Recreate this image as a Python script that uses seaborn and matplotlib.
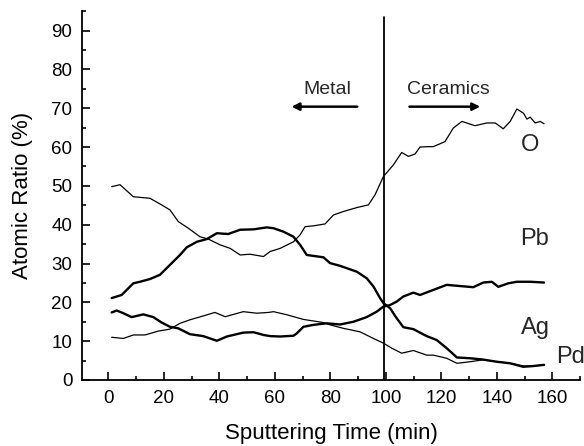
import numpy as np
import pandas as pd
import matplotlib
matplotlib.use("Agg")
import matplotlib.pyplot as plt
from matplotlib.ticker import MultipleLocator
import seaborn as sns

# Depth profile values
o_time = [1.2, 4.2, 9, 15, 19.2, 22.2, 25.2, 28.8, 33, 36, 40.3, 43.9, 47.5, 51, 55.9,
          58.3, 61.9, 66.7, 69.1, 70.9, 73.9, 78.1, 81.1, 84.7, 89.5, 93.7, 96.1, 99.1,
          102.7, 105.7, 108.1, 110.5, 112.3, 115.3, 117.1, 121.3, 124.3, 127.4, 132.1,
          136.4, 139.4, 142.3, 144.8, 147.2, 149.6, 150.8, 152, 153.8, 155.6, 157]
o_ratio = [49.8, 50.3, 47.2, 46.8, 45.1, 43.8, 40.8, 39.1, 36.9, 36.3, 34.8, 33.9, 32.2,
           32.4, 31.8, 33.1, 33.9, 35.6, 37.4, 39.5, 39.7, 40.2, 42.5, 43.4, 44.4, 45.1,
           47.7, 52.4, 55.4, 58.6, 57.6, 58.2, 60, 60.1, 60.1, 61.4, 64.9, 66.6, 65.5,
           66.2, 66.2, 64.7, 66.6, 69.8, 68.7, 67.2, 67.7, 66.2, 66.6, 66]

ag_time = [1.2, 4.8, 6.6, 9, 11.4, 15, 18.6, 21, 23.4, 25.8, 28.3, 31.9, 35.5, 39.1, 43.2,
           47.5, 52.3, 57.1, 59.5, 63.1, 66.7, 69.1, 71.5, 77.5, 79.9, 83.5, 89.5, 93.1,
           95.5, 97.9, 99.1, 101.5, 103.9, 106.3, 109.9, 112.3, 114.7, 118.3, 121.9,
           125.6, 130.3, 134.6, 140, 144.8, 149.5, 153.2, 157]
ag_ratio = [21.1, 21.9, 23.2, 24.9, 25.3, 26, 27.1, 28.8, 30.5, 32.2, 34.2, 35.6, 36.3,
            37.8, 37.6, 38.7, 38.8, 39.3, 39.1, 38.2, 36.9, 34.8, 32.2, 31.6, 30.1, 29.4,
            27.9, 26.2, 24.1, 21.1, 19.8, 18.5, 15.9, 13.6, 13.1, 12.2, 11.3, 10.3, 8.2,
            5.8, 5.6, 5.3, 4.7, 4.3, 3.4, 3.6, 3.9]

pb_time = [1.2, 3, 5.4, 8.4, 12.6, 16.2, 19.2, 22.2, 25.2, 29.4, 34.2, 39.1, 42.7, 48.6,
           52.3, 55.9, 58.3, 61.9, 66.7, 67.9, 70.3, 73.9, 78.7, 83.5, 88.3, 93.1, 96.7,
           99.1, 101.5, 103.9, 106.3, 109.9, 112.3, 117.1, 121.9, 126.7, 131.5, 135.1,
           138.2, 140.5, 144.1, 147.2, 152, 157]
pb_ratio = [17.4, 17.9, 17.2, 16.2, 16.9, 16.2, 14.8, 13.7, 13.3, 11.8, 11.3, 10.1, 11.2,
            12.2, 12.3, 11.6, 11.3, 11.2, 11.4, 12, 13.7, 14.2, 14.6, 14.3, 15, 16.2,
            17.6, 18.9, 19.3, 20.2, 21.5, 22.5, 21.9, 23.2, 24.5, 24.2, 23.9, 25.1, 25.3,
            24, 24.9, 25.3, 25.3, 25.1]

pd_time = [1.2, 5.4, 9, 13.2, 18, 22.2, 25.8, 29.4, 34.2, 38.4, 42.1, 48.6, 53.5, 57.7,
           59.5, 64.3, 70.3, 77.5, 79.9, 84.7, 90.7, 95.5, 99.1, 102.1, 105.7, 109.9,
           114.7, 117.1, 121.9, 125.6, 130.3, 135.1, 140, 144.8, 149.5, 153.2, 157]
pd_ratio = [11, 10.7, 11.6, 11.6, 12.6, 13.1, 14.6, 15.5, 16.5, 17.4, 16.3, 17.6, 17.2,
            17.4, 17.6, 16.8, 15.6, 14.8, 14.2, 13.3, 12.4, 10.7, 9.5, 8.2, 6.9, 7.6,
            6.4, 6.4, 5.6, 4.3, 4.7, 5.2, 4.7, 4.3, 3.6, 3.6, 3.9]

interface_time = 99.5

sns.set_style("ticks")
plt.rcParams['font.family'] = ['Liberation Sans', 'DejaVu Sans']

fig = plt.figure(figsize=(5.84, 4.46), dpi=100)
ax = fig.add_axes([0.1404, 0.148, 0.853, 0.827])

# thin lines: O and Pd, thick lines: Ag and Pb
for t, r, lw in [(o_time, o_ratio, 0.9), (pd_time, pd_ratio, 0.9),
                 (ag_time, ag_ratio, 1.7), (pb_time, pb_ratio, 1.7)]:
    sns.lineplot(x=t, y=r, ax=ax, color='black', linewidth=lw, sort=False)

# metal / ceramics boundary
ax.plot([interface_time, interface_time], [0, 93.6], color='black', lw=1.3)

ax.text(78.9, 74.7, "Metal", ha='center', va='center', fontsize=14)
ax.text(122.5, 74.7, "Ceramics", ha='center', va='center', fontsize=14)
arrow = dict(arrowstyle='-|>', color='black', lw=1.8, mutation_scale=11)
ax.annotate("", xy=(65, 70.4), xytext=(90.7, 70.4), arrowprops=arrow)
ax.annotate("", xy=(135, 70.4), xytext=(107.5, 70.4), arrowprops=arrow)

ax.text(152, 60.5, "O", ha='center', va='center', fontsize=17)
ax.text(153.4, 36.3, "Pb", ha='center', va='center', fontsize=17)
ax.text(154, 13.3, "Ag", ha='center', va='center', fontsize=17)
ax.text(166.4, 6.0, "Pd", ha='center', va='center', fontsize=17, clip_on=False)

ax.set_xlim(-9.5, 170)
ax.set_ylim(0, 95)
ax.xaxis.set_major_locator(MultipleLocator(20))
ax.xaxis.set_minor_locator(MultipleLocator(10))
ax.yaxis.set_major_locator(MultipleLocator(10))
ax.yaxis.set_minor_locator(MultipleLocator(5))
ax.tick_params(which='major', direction='in', length=6, width=1.2, labelsize=13.5,
               color='black', labelcolor='black', pad=7)
ax.tick_params(which='minor', direction='in', length=3, width=1.2, color='black')
for side in ['top', 'right']:
    ax.spines[side].set_visible(False)
for side in ['left', 'bottom']:
    ax.spines[side].set_linewidth(1.3)
    ax.spines[side].set_color('black')

ax.set_xlabel("Sputtering Time (min)", fontsize=16, color='black', labelpad=12)
ax.set_ylabel("Atomic Ratio (%)", fontsize=16, color='black', labelpad=13)

fig.savefig("out.png", dpi=100)
